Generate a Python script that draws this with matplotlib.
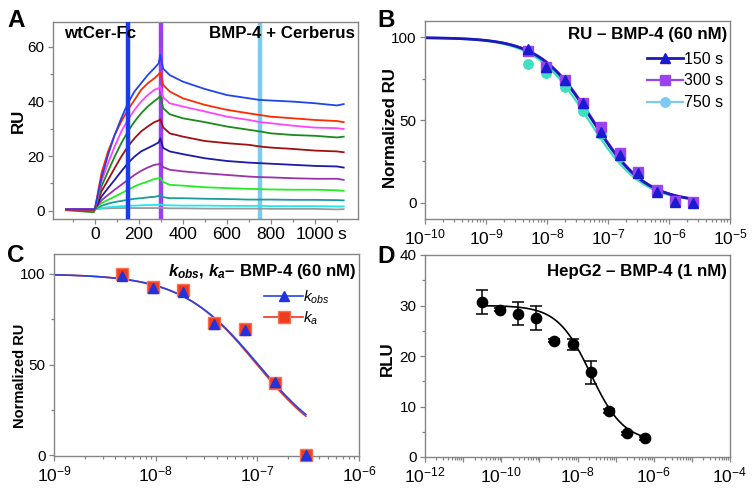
import numpy as np
import matplotlib
matplotlib.use('Agg')
import matplotlib.pyplot as plt
from matplotlib.ticker import MultipleLocator, FixedLocator, FuncFormatter, NullFormatter
from matplotlib.lines import Line2D

plt.rcParams['font.family'] = ['Liberation Sans', 'DejaVu Sans']
plt.rcParams['mathtext.fontset'] = 'custom'
plt.rcParams['mathtext.rm'] = 'Liberation Sans'
plt.rcParams['mathtext.it'] = 'Liberation Sans:italic'
plt.rcParams['mathtext.bf'] = 'Liberation Sans:bold'
try:
    plt.rcParams['mathtext.bfit'] = 'Liberation Sans:italic:bold'
except Exception:
    pass

# ---------------- Panel A data (sensorgrams) ----------------
sens_time = [-130, -5, 0, 30, 60, 90, 120, 150, 180, 210, 240, 270, 290, 297, 310, 340,
             400, 500, 600, 700, 750, 800, 900, 1000, 1100, 1130]
trace_blue = [0.5, 0.5, 0.8, 11.9, 20.4, 27.7, 33.8, 39.3, 43.6, 46.6, 49.6, 52.1, 53.9, 57.0, 52.0, 49.6,
              47.2, 44.5, 42.3, 41.1, 40.5, 40.3, 39.9, 39.3, 38.5, 39.0]
trace_red = [0.3, 0.3, 0.5, 13.7, 21.7, 27.7, 32.6, 36.9, 40.5, 44.2, 46.6, 48.4, 49.9, 50.5, 46.0, 43.6,
             41.1, 38.7, 36.9, 35.6, 35.0, 34.4, 33.8, 33.2, 32.8, 32.4]
trace_magenta = [0.5, 0.5, 0.6, 10.7, 17.4, 23.5, 29.0, 33.2, 36.9, 39.9, 42.3, 44.2, 44.8, 45.5, 41.5, 39.3,
                 38.1, 36.3, 34.4, 33.2, 32.4, 32.0, 31.1, 30.4, 30.2, 29.9]
trace_green = [0.2, -0.5, 0.3, 8.9, 14.4, 19.8, 24.7, 29.0, 32.6, 35.6, 38.1, 40.1, 41.3, 41.9, 37.5, 35.3,
               33.8, 32.4, 30.8, 29.6, 29.0, 28.3, 27.7, 27.4, 26.8, 27.1]
trace_darkred = [0.5, 0.5, 0.6, 7.1, 11.3, 15.6, 19.8, 23.5, 26.5, 29.0, 30.8, 32.4, 33.0, 33.5, 30.5, 28.3,
                 27.1, 25.5, 24.7, 24.1, 23.5, 23.1, 22.6, 22.0, 21.7, 21.4]
trace_navy = [0.5, 0.5, 0.6, 5.2, 8.3, 11.3, 14.4, 17.4, 19.8, 21.7, 22.9, 24.1, 25.0, 26.5, 23.0, 21.7,
              20.7, 19.2, 18.2, 17.6, 17.4, 17.2, 16.8, 16.4, 16.2, 15.8]
trace_purple = [0.5, 0.5, 0.6, 3.8, 5.8, 7.7, 9.5, 11.3, 13.1, 14.6, 15.8, 16.8, 17.0, 17.3, 16.0, 15.0,
                14.4, 13.7, 13.1, 12.5, 12.3, 12.2, 11.9, 11.7, 11.7, 11.3]
trace_lime = [0.5, 0.5, 0.6, 2.8, 4.0, 5.2, 6.4, 7.7, 8.9, 9.9, 10.7, 11.6, 11.9, 12.1, 10.5, 9.5,
              9.2, 8.6, 8.3, 8.0, 7.9, 7.8, 7.7, 7.7, 7.5, 7.3]
trace_teal = [0.5, 0.5, 0.6, 1.8, 2.6, 3.2, 3.6, 4.0, 4.4, 4.6, 4.9, 5.1, 5.4, 5.8, 5.0, 4.6,
              4.6, 4.4, 4.3, 4.1, 4.1, 4.1, 4.0, 4.0, 3.9, 3.8]
trace_cyan = [0.4, 0.4, 0.5, 1.0, 1.3, 1.5, 1.7, 1.8, 1.9, 2.0, 2.1, 2.1, 2.2, 2.3, 2.1, 2.0,
              1.9, 1.9, 1.8, 1.8, 1.8, 1.7, 1.7, 1.7, 1.6, 1.6]
trace_gray = [0.5, 0.5, 0.5, 0.8, 0.9, 1.0, 1.0, 1.0, 1.0, 1.0, 1.0, 1.0, 1.0, 1.2, 1.0, 0.9,
              0.9, 0.8, 0.8, 0.8, 0.8, 0.7, 0.7, 0.7, 0.5, 0.6]
trace_colors = ['#9a9a9a', '#22e8ee', '#1a9a9a', '#22ee22', '#9933aa', '#1a1aa8',
                '#a01010', '#1a8a1a', '#ff44ff', '#ff2a00', '#2244ee']
marker_times = [150, 300, 750]
marker_colors = ['#1a3cf0', '#9a40f0', '#7acbf0']
a_xticks = [0, 200, 400, 600, 800, 1000]
a_xticklabels = ['0', '200', '400', '600', '800', '1000']

# ---------------- Panel B data ----------------
b_conc = [4.88e-9, 9.77e-9, 1.95e-8, 3.91e-8, 7.81e-8, 1.56e-7, 3.13e-7, 6.25e-7, 1.25e-6, 2.5e-6]
b_150 = [93, 82, 74, 60, 43, 29, 18, 6.5, 0.5, 0]
b_300 = [92, 82, 74.3, 60, 45.5, 30, 18.6, 7.7, 1.2, 0.2]
b_750 = [84.2, 78.4, 69.7, 55.6, 41.4, 27.3, 17, 7, 0.8, 0.3]
b_fit_150 = (100, 0, 5.5e-8, 1.0)   # top, bottom, IC50, hill
b_fit_300 = (100, 0, 5.7e-8, 1.0)
b_fit_750 = (100, 0, 4.8e-8, 1.0)
b_labels = ['150 s', '300 s', '750 s']

# ---------------- Panel C data ----------------
c_conc = [4.69e-9, 9.38e-9, 1.875e-8, 3.75e-8, 7.5e-8, 1.5e-7, 3.0e-7]
c_kobs = [99.1, 92.3, 90.0, 72.5, 68.8, 40.6, 0]
c_ka = [100, 92.8, 91.0, 72.9, 69.6, 40.0, 0]
c_fit_kobs = (100, 0, 1.02e-7, 1.15)
c_fit_ka = (100, 0, 0.99e-7, 1.17)

# ---------------- Panel D data ----------------
d_conc = [3.05e-11, 9.1e-11, 2.74e-10, 8.2e-10, 2.47e-9, 7.4e-9, 2.22e-8, 6.67e-8, 2.0e-7, 6.0e-7]
d_rlu = [30.7, 29.2, 28.4, 27.6, 23.0, 22.3, 16.8, 9.2, 4.7, 3.7]
d_err = [2.3, 0.3, 2.2, 2.4, 0.3, 1.1, 2.3, 0.4, 0.3, 0.3]
d_fit = (30, 3, 2.2e-8, 1.0)


def logistic(x, p):
    top, bottom, ic50, hill = p
    x = np.asarray(x)
    return bottom + (top - bottom) / (1 + (x / ic50) ** hill)


FRAME = '#858585'
YTICK_FS = 11
XTICK_FS = 12.5
LAB_FS = 12.2
TITLE_FS = 12.2


def style(ax):
    for s in ax.spines.values():
        s.set_color(FRAME)
        s.set_linewidth(1.0)
    ax.tick_params(which='both', direction='out', color=FRAME, width=0.9)
    ax.tick_params(axis='y', labelsize=YTICK_FS, pad=2.5)
    ax.tick_params(axis='x', labelsize=XTICK_FS, pad=2.5)
    ax.tick_params(which='major', length=3.5)
    ax.tick_params(which='minor', length=2.2)


def log_axis(ax, lo, hi, step=1):
    ax.set_xscale('log')
    ax.set_xlim(10.0 ** lo, 10.0 ** hi)
    ax.xaxis.set_major_locator(FixedLocator([10.0 ** e for e in range(lo, hi + 1)]))
    minors = [m * 10.0 ** e for e in range(lo, hi) for m in range(2, 10)]
    ax.xaxis.set_minor_locator(FixedLocator(minors))

    def f(v, pos):
        e = int(round(np.log10(v)))
        if (e - lo) % step != 0:
            return ''
        return r'$\mathdefault{10^{%d}}$' % e
    ax.xaxis.set_major_formatter(FuncFormatter(f))
    ax.xaxis.set_minor_formatter(NullFormatter())


fig = plt.figure(figsize=(7.54, 4.91), dpi=100)
W, H = 754, 491


def add_ax(l, t, r, b):
    return fig.add_axes([l / W, 1 - b / H, (r - l) / W, (b - t) / H])


# ---------------- Panel A ----------------
axA = add_ax(53, 22, 358, 219)
style(axA)
for c, t in zip(marker_colors[1:], marker_times[1:]):
    axA.axvline(t, color=c, lw=3.2, zorder=1)
traces = [trace_gray, trace_cyan, trace_teal, trace_lime, trace_purple, trace_navy,
          trace_darkred, trace_green, trace_magenta, trace_red, trace_blue]
for tr, c in zip(traces, trace_colors):
    axA.plot(sens_time, tr, color=c, lw=1.3, zorder=2)
axA.axvline(marker_times[0], color=marker_colors[0], lw=3.2, zorder=3)
axA.set_xlim(-190, 1195)
axA.set_ylim(-3, 69)
axA.set_xticks(a_xticks)
axA.set_xticklabels(a_xticklabels)
axA.xaxis.set_minor_locator(MultipleLocator(100))
axA.set_yticks([0, 20, 40, 60])
axA.yaxis.set_minor_locator(MultipleLocator(10))
axA.annotate('s', xy=(1000, 0), xycoords=axA.get_xaxis_transform(), xytext=(16.5, -6.0),
             textcoords='offset points', ha='left', va='top', fontsize=XTICK_FS)
axA.set_ylabel('RU', fontsize=LAB_FS, fontweight='bold')
axA.yaxis.set_label_coords(-0.09, 0.5)
axA.text(0.036, 0.917, 'wtCer-Fc', transform=axA.transAxes, fontsize=TITLE_FS,
         fontweight='bold', ha='left', va='baseline')
axA.text(0.99, 0.917, 'BMP-4 + Cerberus', transform=axA.transAxes, fontsize=TITLE_FS,
         fontweight='bold', ha='right', va='baseline')

# ---------------- Panel B ----------------
axB = add_ax(425, 21, 730, 219)
style(axB)
log_axis(axB, -10, -5)
xb = np.logspace(-10, np.log10(b_conc[-1]), 300)
axB.plot(xb, logistic(xb, b_fit_750), color='#3ee0c0', lw=1.6, zorder=2)
axB.plot(xb, logistic(xb, b_fit_300), color='#9944ee', lw=1.6, zorder=2)
axB.plot(xb, logistic(xb, b_fit_150), color='#1a1ab8', lw=2.0, zorder=2)
axB.plot(b_conc, b_750, 'o', color='#3ee0c0', ms=6.8, zorder=3, clip_on=False)
axB.plot(b_conc, b_300, 's', color='#9944ee', ms=7.4, zorder=4, clip_on=False)
axB.plot(b_conc, b_150, '^', color='#1a1ad0', ms=7.4, zorder=5, clip_on=False)
axB.set_ylim(-10, 110)
axB.set_yticks([0, 50, 100])
axB.yaxis.set_minor_locator(MultipleLocator(25))
axB.set_ylabel('Normalized RU', fontsize=LAB_FS, fontweight='bold')
axB.yaxis.set_label_coords(-0.09, 0.457)
axB.text(0.99, 0.9076, 'RU – BMP-4 (60 nM)', transform=axB.transAxes, fontsize=TITLE_FS,
         fontweight='bold', ha='right', va='baseline')
hB = [Line2D([], [], color='#1a1ab8', lw=2.0, marker='^', ms=7.4, mfc='#1a1ad0', mec='#1a1ad0'),
      Line2D([], [], color='#9944ee', lw=1.6, marker='s', ms=7.4),
      Line2D([], [], color='#7fc8f0', lw=1.6, marker='o', ms=6.8)]
axB.legend(hB, b_labels, loc='upper left', bbox_to_anchor=(0.727, 0.845), frameon=False,
           handlelength=2.3, handletextpad=0.05, borderpad=0, borderaxespad=0,
           labelspacing=0.42, fontsize=11.5)

# ---------------- Panel C ----------------
axC = add_ax(54, 254, 359, 456)
style(axC)
log_axis(axC, -9, -6)
xc = np.logspace(-9, np.log10(c_conc[-1]), 300)
axC.plot(xc, logistic(xc, c_fit_ka), color='#ee3322', lw=1.2, zorder=2)
axC.plot(xc, logistic(xc, c_fit_kobs), color='#2244ee', lw=1.2, zorder=2)
axC.plot(c_conc, c_ka, 's', color='#f03c1e', mec='#ff7050', ms=8.4, zorder=3, clip_on=False)
axC.plot(c_conc, c_kobs, '^', color='#2233dd', ms=7.4, zorder=4, clip_on=False)
axC.set_ylim(-0.5, 111)
axC.set_yticks([0, 50, 100])
axC.yaxis.set_minor_locator(MultipleLocator(25))
axC.set_ylabel('Normalized RU', fontsize=10.5, fontweight='bold')
axC.yaxis.set_label_coords(-0.088, 0.396)
axC.text(0.99, 0.891, r'$\mathbfit{k}_{\mathbfit{obs}}$, $\mathbfit{k}_{\mathbfit{a}}$– BMP-4 (60 nM)',
         transform=axC.transAxes, fontsize=TITLE_FS, fontweight='bold', ha='right', va='baseline')
hC = [Line2D([], [], color='#2244ee', lw=1.2, marker='^', ms=7.4, mfc='#2233dd', mec='#2233dd'),
      Line2D([], [], color='#ee3322', lw=1.2, marker='s', ms=8.4, mfc='#f03c1e', mec='#ff7050')]
axC.legend(hC, [r'$\mathit{k}_{\mathit{obs}}$', r'$\mathit{k}_{\mathit{a}}$'], loc='upper left',
           bbox_to_anchor=(0.69, 0.83), frameon=False, handlelength=2.5, handletextpad=0.05,
           borderpad=0, borderaxespad=0, labelspacing=0.25, fontsize=11)

# ---------------- Panel D ----------------
axD = add_ax(425, 255, 730, 457)
style(axD)
log_axis(axD, -12, -4, step=2)
xd = np.logspace(np.log10(d_conc[0]), np.log10(d_conc[-1]), 300)
axD.plot(xd, logistic(xd, d_fit), color='black', lw=1.2, zorder=2)
axD.errorbar(d_conc, d_rlu, yerr=d_err, fmt='o', color='black', ms=7.4, capsize=4.5,
             elinewidth=1.1, capthick=1.1, zorder=3)
axD.set_ylim(0, 40)
axD.set_yticks([0, 10, 20, 30, 40])
axD.yaxis.set_minor_locator(MultipleLocator(5))
axD.set_ylabel('RLU', fontsize=LAB_FS, fontweight='bold')
axD.yaxis.set_label_coords(-0.1, 0.485)
axD.text(0.99, 0.896, 'HepG2 – BMP-4 (1 nM)', transform=axD.transAxes, fontsize=TITLE_FS,
         fontweight='bold', ha='right', va='baseline')

# ---------------- Panel letters ----------------
for lab, x, y in [('A', 7, 27), ('B', 377, 27), ('C', 7, 262), ('D', 377, 263)]:
    fig.text(x / W, 1 - y / H, lab, fontsize=17.5, fontweight='bold', ha='left', va='baseline')

fig.savefig('out.png', dpi=100)
